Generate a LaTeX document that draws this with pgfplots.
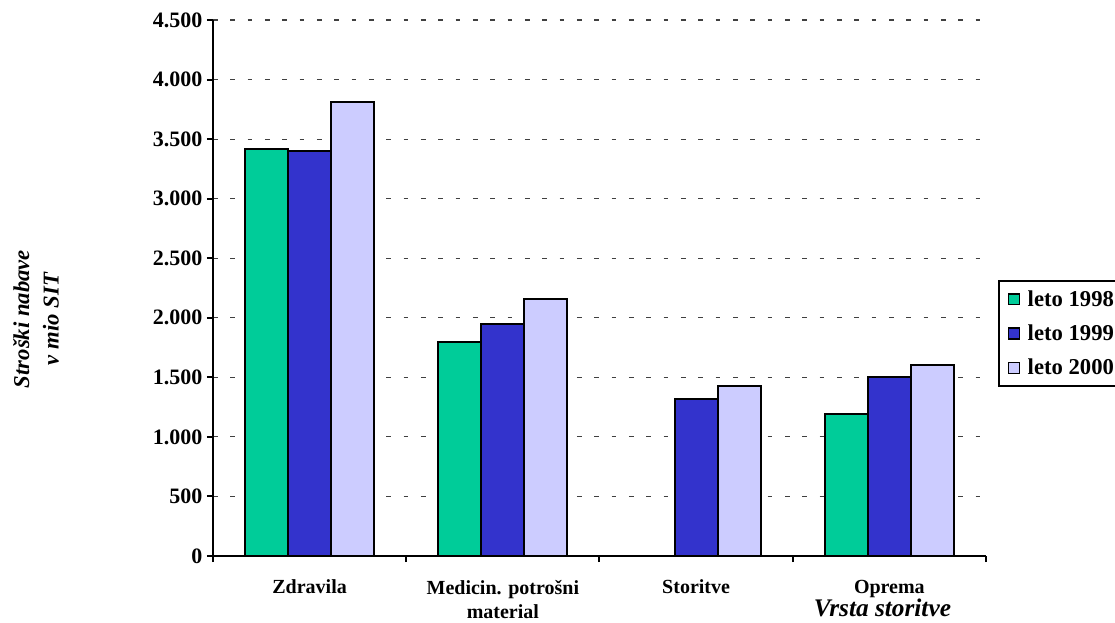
\documentclass[border=0pt]{standalone}
\usepackage{fontspec}
\setmainfont{Liberation Serif}
\usepackage{pgfplots}
\pgfplotsset{compat=1.18}
\definecolor{c98}{HTML}{00CC99}
\definecolor{c99}{HTML}{3333CC}
\definecolor{c00}{HTML}{CCCCFF}
\pgfplotsset{sq/.style={legend image code/.code={\draw[##1,line width=1.3pt] (0pt,-4.1pt) rectangle (8.25pt,4.1pt);}}}
\begin{document}
\begin{tikzpicture}
\begin{axis}[
  name=ax,
  scale only axis, width=579.75pt, height=402pt,
  ymin=0, ymax=4500, ytick distance=500,
  xmin=-0.5, xmax=3.5,
  xtick={0,1,2,3},
  xticklabels={Zdravila,{Medicin. potrošni\\material},Storitve,Oprema},
  xticklabel style={align=center, font=\fontsize{15}{18}\selectfont\bfseries, yshift=-10pt},
  minor xtick={-0.5,0.5,1.5,2.5,3.5},
  major x tick style={draw=none},
  major tick length=4.5pt, minor tick length=4.5pt,
  tick align=outside,
  tick style={line width=1.5pt, black},
  axis lines*=left,
  axis line style={line width=1.5pt},
  ymajorgrids,
  grid style={dash pattern=on 3.5pt off 9.5pt, line width=0.9pt, black!75},
  yticklabel style={font=\fontsize{16.5}{19}\selectfont\bfseries},
  /pgf/number format/1000 sep={.},
  /pgf/number format/assume math mode=true,
  ybar=0pt, bar width=32.25pt,
  xlabel={Vrsta storitve},
  xlabel style={at={(axis description cs:0.866,-0.097)}, anchor=center, font=\fontsize{19}{22}\selectfont\bfseries\itshape},
  ylabel={Stroški nabave\\v mio SIT},
  ylabel style={at={(axis description cs:-0.2290,0.442)}, anchor=center, align=center, font=\fontsize{17}{22}\selectfont\bfseries\itshape},
  legend style={at={(axis description cs:1.0155,0.515)}, anchor=north west, draw=black, line width=1.5pt,
     font=\fontsize{17}{20}\selectfont\bfseries, row sep=8.5pt, column sep=3.5pt, inner xsep=6.5pt, inner ysep=5pt},
  legend cell align=left,
]
\addplot[fill=c98, draw=black, line width=1.5pt, sq] coordinates {(0,3415) (1,1800) (3,1190)};
\addplot[fill=c99, draw=black, line width=1.5pt, sq] coordinates {(0,3400) (1,1950) (2,1320) (3,1500)};
\addplot[fill=c00, draw=black, line width=1.5pt, sq] coordinates {(0,3810) (1,2160) (2,1430) (3,1600)};
\legend{leto 1998, leto 1999, leto 2000}
\end{axis}
\pgfresetboundingbox
\path (ax.south west) ++(-159.75pt,-49.5pt) rectangle ++(836.25pt,466.5pt);
\end{tikzpicture}
\end{document}
